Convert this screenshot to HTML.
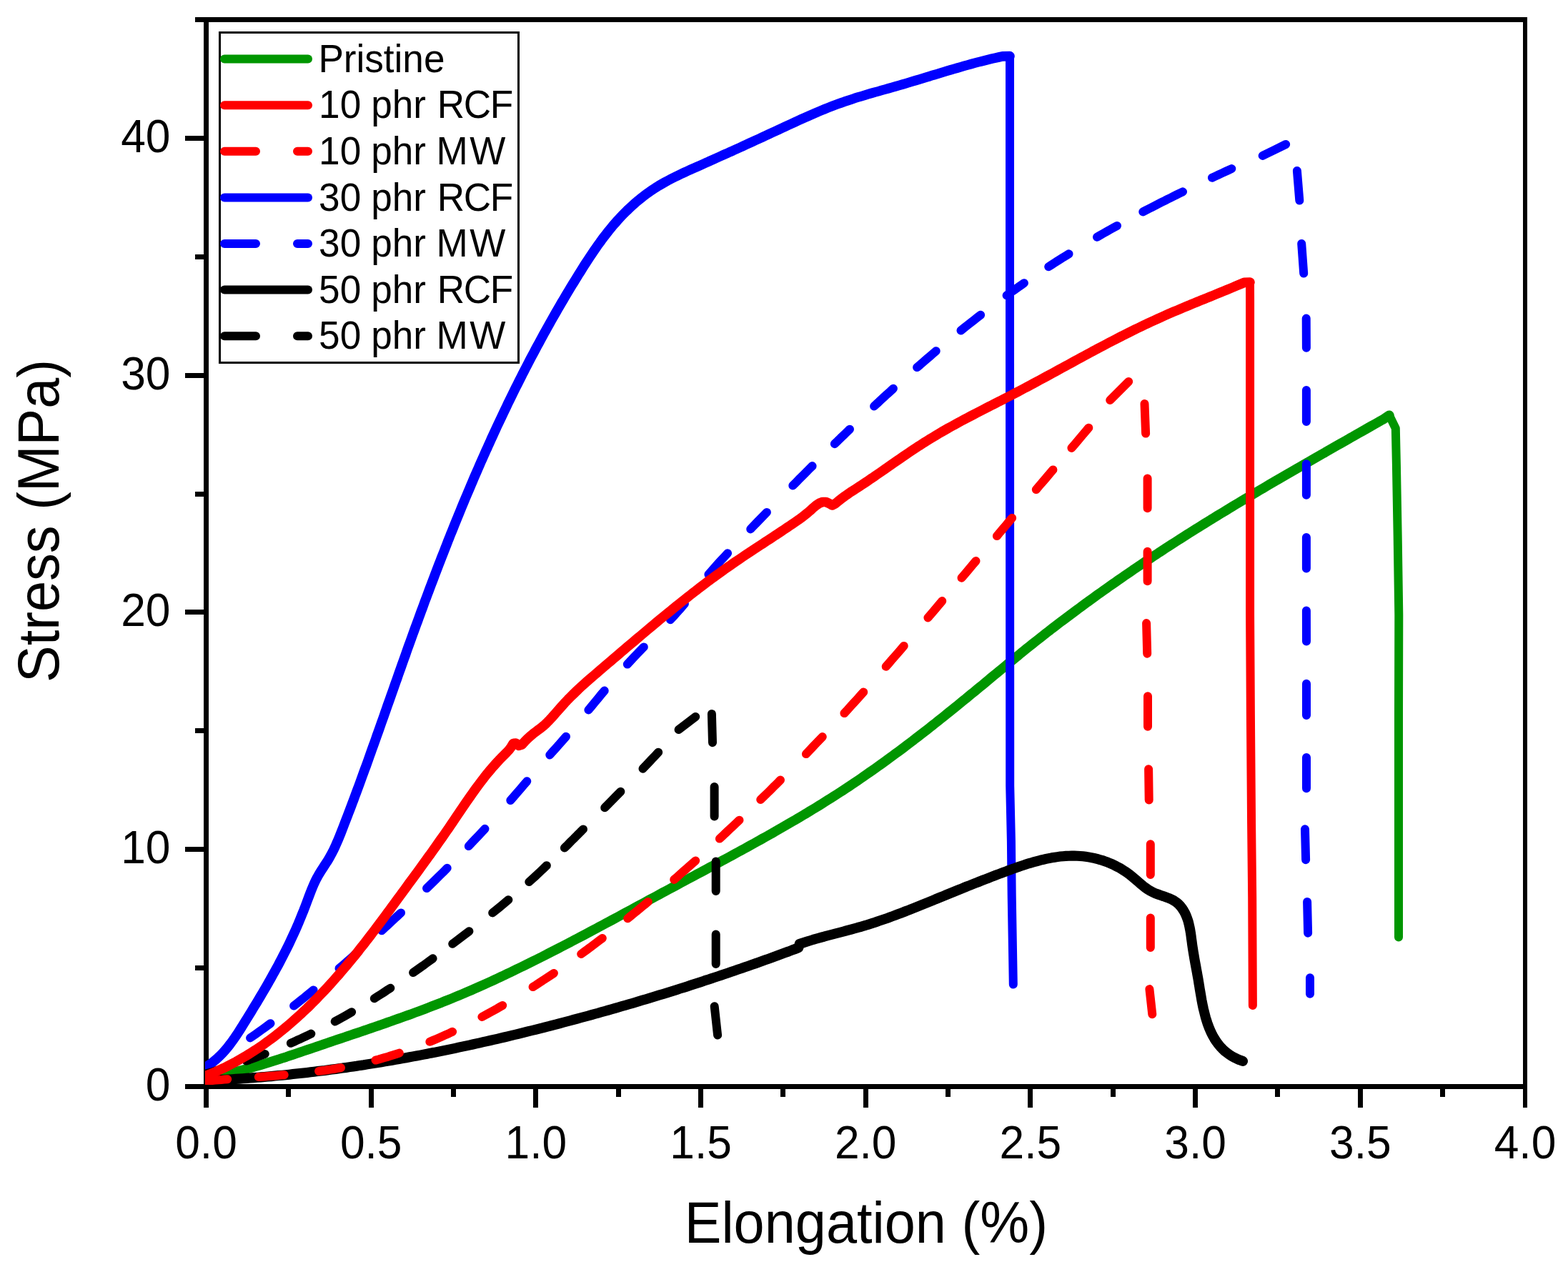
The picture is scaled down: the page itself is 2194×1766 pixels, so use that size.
<!DOCTYPE html>
<html lang="en">
<head>
<meta charset="utf-8">
<title>Stress vs Elongation</title>
<style>
html,body{margin:0;padding:0;background:#fff;}
body{width:2194px;height:1766px;overflow:hidden;}
svg{display:block;}
text{font-family:"Liberation Sans",Arial,Helvetica,sans-serif;fill:#000;}
.tick{font-size:62.3px;}
.axis{font-size:77.5px;}
.leg{font-size:53.1px;}
</style>
</head>
<body>
<svg xmlns="http://www.w3.org/2000/svg" width="2194" height="1766" viewBox="0 0 2194 1766">
<rect x="0" y="0" width="2194" height="1766" fill="#ffffff"/>
<g id="axes" shape-rendering="crispEdges">
<rect x="285" y="24" width="7" height="1526" fill="#000"/>
<rect x="2131" y="24" width="6" height="1526" fill="#000"/>
<rect x="273" y="24" width="1864" height="7" fill="#000"/>
<rect x="259" y="1517" width="1878" height="7" fill="#000"/>
<rect x="400" y="1520" width="7" height="15" fill="#000"/>
<rect x="516" y="1520" width="7" height="30" fill="#000"/>
<rect x="631" y="1520" width="7" height="15" fill="#000"/>
<rect x="746" y="1520" width="7" height="30" fill="#000"/>
<rect x="862" y="1520" width="7" height="15" fill="#000"/>
<rect x="977" y="1520" width="7" height="30" fill="#000"/>
<rect x="1092" y="1520" width="7" height="15" fill="#000"/>
<rect x="1208" y="1520" width="7" height="30" fill="#000"/>
<rect x="1323" y="1520" width="7" height="15" fill="#000"/>
<rect x="1438" y="1520" width="7" height="30" fill="#000"/>
<rect x="1554" y="1520" width="7" height="15" fill="#000"/>
<rect x="1669" y="1520" width="7" height="30" fill="#000"/>
<rect x="1784" y="1520" width="7" height="15" fill="#000"/>
<rect x="1900" y="1520" width="7" height="30" fill="#000"/>
<rect x="2015" y="1520" width="7" height="15" fill="#000"/>
<rect x="273" y="1351" width="15" height="7" fill="#000"/>
<rect x="259" y="1185" width="29" height="7" fill="#000"/>
<rect x="273" y="1019" width="15" height="7" fill="#000"/>
<rect x="259" y="853" width="29" height="7" fill="#000"/>
<rect x="273" y="688" width="15" height="7" fill="#000"/>
<rect x="259" y="522" width="29" height="7" fill="#000"/>
<rect x="273" y="356" width="15" height="7" fill="#000"/>
<rect x="259" y="190" width="29" height="7" fill="#000"/>
</g>
<defs><clipPath id="plotclip"><rect x="287" y="28" width="1847" height="1490"/></clipPath></defs>
<g id="curves" clip-path="url(#plotclip)">
<path d="M280 1509.5 L284.9 1508.8 L289.9 1508 L294.8 1507.2 L299.7 1506.3 L304.6 1505.3 L309.5 1504.3 L314.3 1503.3 L319.2 1502.2 L324.1 1501.1 L328.9 1500 L333.7 1498.8 L338.6 1497.5 L343.4 1496.3 L348.2 1495 L353 1493.6 L357.8 1492.3 L362.6 1490.9 L367.4 1489.4 L372.2 1488 L377 1486.5 L381.7 1485 L386.5 1483.5 L391.3 1482 L396 1480.4 L400.8 1478.9 L405.5 1477.3 L410.3 1475.7 L415 1474.1 L419.8 1472.5 L424.5 1470.9 L429.3 1469.3 L434 1467.7 L438.8 1466.1 L443.5 1464.5 L448.3 1462.8 L453 1461.2 L457.7 1459.6 L462.5 1458 L467.2 1456.4 L472 1454.8 L476.7 1453.2 L481.5 1451.6 L486.2 1450 L491 1448.4 L495.7 1446.8 L500.5 1445.2 L505.2 1443.6 L509.9 1442 L514.7 1440.3 L519.4 1438.7 L524.1 1437.1 L528.9 1435.5 L533.6 1433.8 L538.3 1432.2 L543 1430.5 L547.8 1428.9 L552.5 1427.2 L557.2 1425.5 L561.9 1423.9 L566.6 1422.2 L571.3 1420.5 L576 1418.8 L580.7 1417 L585.4 1415.3 L590.1 1413.6 L594.8 1411.8 L599.4 1410 L604.1 1408.2 L608.8 1406.4 L613.4 1404.6 L618.1 1402.8 L622.7 1400.9 L627.3 1399.1 L632 1397.2 L636.6 1395.3 L641.2 1393.4 L645.8 1391.5 L650.4 1389.5 L655 1387.5 L659.6 1385.6 L664.2 1383.6 L668.8 1381.5 L673.3 1379.5 L677.9 1377.5 L682.5 1375.4 L687 1373.3 L691.6 1371.2 L696.1 1369.1 L700.6 1367 L705.2 1364.9 L709.7 1362.7 L714.2 1360.6 L718.7 1358.4 L723.2 1356.2 L727.7 1354 L732.2 1351.8 L736.7 1349.6 L741.2 1347.4 L745.7 1345.2 L750.1 1343 L754.6 1340.7 L759.1 1338.5 L763.5 1336.2 L768 1333.9 L772.4 1331.7 L776.9 1329.4 L781.3 1327.1 L785.8 1324.8 L790.2 1322.5 L794.6 1320.2 L799.1 1317.9 L803.5 1315.5 L807.9 1313.2 L812.4 1310.9 L816.8 1308.6 L821.2 1306.2 L825.6 1303.9 L830 1301.5 L834.4 1299.2 L838.8 1296.8 L843.2 1294.5 L847.7 1292.1 L852.1 1289.7 L856.5 1287.4 L860.9 1285 L865.3 1282.6 L869.7 1280.2 L874.1 1277.9 L878.5 1275.5 L882.9 1273.1 L887.3 1270.7 L891.7 1268.4 L896.1 1266 L900.5 1263.6 L904.9 1261.2 L909.3 1258.8 L913.7 1256.5 L918.1 1254.1 L922.5 1251.7 L926.9 1249.3 L931.3 1247 L935.7 1244.6 L940.1 1242.2 L944.5 1239.9 L948.9 1237.5 L953.4 1235.1 L957.8 1232.8 L962.2 1230.4 L966.6 1228 L971 1225.7 L975.4 1223.3 L979.9 1220.9 L984.3 1218.6 L988.7 1216.2 L993.1 1213.8 L997.5 1211.5 L1001.9 1209.1 L1006.3 1206.7 L1010.8 1204.3 L1015.2 1202 L1019.6 1199.6 L1024 1197.2 L1028.4 1194.8 L1032.8 1192.4 L1037.2 1190 L1041.6 1187.6 L1045.9 1185.2 L1050.3 1182.8 L1054.7 1180.4 L1059.1 1177.9 L1063.5 1175.5 L1067.8 1173 L1072.2 1170.6 L1076.6 1168.1 L1080.9 1165.7 L1085.3 1163.2 L1089.6 1160.7 L1094 1158.2 L1098.3 1155.7 L1102.6 1153.2 L1106.9 1150.7 L1111.3 1148.2 L1115.6 1145.6 L1119.9 1143.1 L1124.2 1140.5 L1128.5 1138 L1132.7 1135.4 L1137 1132.8 L1141.3 1130.2 L1145.5 1127.6 L1149.8 1124.9 L1154 1122.3 L1158.3 1119.6 L1162.5 1117 L1166.7 1114.3 L1170.9 1111.6 L1175.1 1108.9 L1179.3 1106.2 L1183.5 1103.4 L1187.6 1100.7 L1191.8 1097.9 L1195.9 1095.1 L1200.1 1092.3 L1204.2 1089.5 L1208.3 1086.7 L1212.4 1083.8 L1216.5 1080.9 L1220.6 1078.1 L1224.7 1075.2 L1228.8 1072.3 L1232.9 1069.4 L1236.9 1066.5 L1241 1063.5 L1245 1060.6 L1249 1057.6 L1253.1 1054.6 L1257.1 1051.7 L1261.1 1048.7 L1265.1 1045.7 L1269.1 1042.6 L1273.1 1039.6 L1277.1 1036.6 L1281 1033.5 L1285 1030.5 L1289 1027.4 L1292.9 1024.4 L1296.9 1021.3 L1300.8 1018.2 L1304.7 1015.1 L1308.7 1012 L1312.6 1008.9 L1316.5 1005.8 L1320.4 1002.7 L1324.3 999.5 L1328.2 996.4 L1332.1 993.2 L1336 990.1 L1339.9 987 L1343.8 983.8 L1347.7 980.6 L1351.6 977.5 L1355.4 974.3 L1359.3 971.1 L1363.2 968 L1367 964.8 L1370.9 961.6 L1374.8 958.4 L1378.6 955.2 L1382.5 952 L1386.3 948.8 L1390.2 945.6 L1394 942.5 L1397.9 939.3 L1401.7 936.1 L1405.6 932.9 L1409.4 929.7 L1413.3 926.5 L1417.1 923.4 L1421 920.2 L1424.9 917.1 L1428.7 913.9 L1432.6 910.8 L1436.5 907.6 L1440.4 904.5 L1444.3 901.4 L1448.2 898.3 L1452.1 895.2 L1456.1 892.1 L1460 889 L1463.9 885.9 L1467.9 882.9 L1471.8 879.8 L1475.8 876.8 L1479.8 873.7 L1483.7 870.7 L1487.7 867.7 L1491.7 864.7 L1495.7 861.7 L1499.7 858.7 L1503.7 855.7 L1507.7 852.7 L1511.8 849.8 L1515.8 846.8 L1519.8 843.8 L1523.9 840.9 L1527.9 838 L1532 835 L1536 832.1 L1540.1 829.2 L1544.2 826.3 L1548.2 823.4 L1552.3 820.5 L1556.4 817.6 L1560.5 814.8 L1564.6 811.9 L1568.7 809.1 L1572.8 806.2 L1577 803.4 L1581.1 800.6 L1585.2 797.7 L1589.4 794.9 L1593.5 792.1 L1597.6 789.3 L1601.8 786.5 L1606 783.7 L1610.1 781 L1614.3 778.2 L1618.5 775.5 L1622.6 772.7 L1626.8 770 L1631 767.2 L1635.2 764.5 L1639.4 761.8 L1643.6 759.1 L1647.8 756.4 L1652 753.7 L1656.3 751 L1660.5 748.3 L1664.7 745.6 L1668.9 743 L1673.2 740.3 L1677.4 737.7 L1681.7 735 L1685.9 732.4 L1690.2 729.8 L1694.4 727.1 L1698.7 724.5 L1702.9 721.9 L1707.2 719.3 L1711.5 716.7 L1715.8 714.1 L1720 711.5 L1724.3 708.9 L1728.6 706.3 L1732.9 703.7 L1737.2 701.2 L1741.5 698.6 L1745.8 696 L1750.1 693.5 L1754.4 690.9 L1758.7 688.4 L1763 685.8 L1767.3 683.3 L1771.6 680.7 L1775.9 678.2 L1780.2 675.7 L1784.5 673.2 L1788.9 670.6 L1793.2 668.1 L1797.5 665.6 L1801.8 663.1 L1806.2 660.6 L1810.5 658.1 L1814.8 655.6 L1819.2 653.1 L1823.5 650.6 L1827.8 648.1 L1832.2 645.6 L1836.5 643.1 L1840.8 640.6 L1845.2 638.1 L1849.5 635.6 L1853.9 633.2 L1858.2 630.7 L1862.6 628.2 L1866.9 625.7 L1871.3 623.2 L1875.6 620.8 L1879.9 618.3 L1884.3 615.8 L1888.6 613.3 L1893 610.9 L1897.3 608.4 L1901.7 605.9 L1906 603.5 L1910.4 601 L1914.7 598.5 L1919.1 596 L1923.4 593.6 L1927.8 591.1 L1932.1 588.6 L1936.5 586.2 L1943.9 581.2" stroke="#009600" stroke-width="13.6" fill="none" stroke-linecap="round" stroke-linejoin="round"/>
<path d="M1943.9 581.2 L1952.8 599.4 L1953.9 649.6 L1955.7 751.6 L1957.3 860.1 L1957 1000 L1957 1311.5" stroke="#009600" stroke-width="12" fill="none" stroke-linecap="round" stroke-linejoin="round"/>
<path d="M280 1497.5 L284.6 1495.1 L289 1492.5 L293.2 1489.7 L297.3 1486.7 L301.1 1483.6 L304.8 1480.3 L308.4 1476.9 L311.8 1473.3 L315.1 1469.7 L318.3 1465.9 L321.3 1462 L324.3 1458 L327.2 1454 L330 1449.9 L332.8 1445.7 L335.5 1441.5 L338.2 1437.3 L340.8 1433 L343.5 1428.7 L346.1 1424.5 L348.8 1420.2 L351.4 1415.9 L354 1411.6 L356.6 1407.3 L359.2 1403.1 L361.8 1398.8 L364.3 1394.5 L366.9 1390.1 L369.4 1385.8 L372 1381.5 L374.5 1377.2 L376.9 1372.8 L379.4 1368.5 L381.8 1364.1 L384.3 1359.7 L386.7 1355.3 L389.1 1350.9 L391.4 1346.5 L393.7 1342.1 L396 1337.6 L398.3 1333.2 L400.6 1328.7 L402.8 1324.2 L405 1319.7 L407.1 1315.2 L409.2 1310.7 L411.3 1306.1 L413.4 1301.6 L415.4 1297 L417.4 1292.4 L419.3 1287.7 L421.2 1283.1 L423.1 1278.4 L425 1273.8 L426.8 1269.1 L428.6 1264.4 L430.3 1259.7 L432.1 1255 L433.9 1250.3 L435.7 1245.6 L437.6 1241 L439.6 1236.4 L441.7 1231.9 L444 1227.5 L446.5 1223.1 L449.1 1218.9 L451.8 1214.7 L454.5 1210.5 L457.3 1206.3 L459.9 1202.1 L462.4 1197.7 L464.7 1193.3 L467 1188.9 L469.1 1184.4 L471.1 1179.8 L473.1 1175.2 L475 1170.6 L476.9 1165.9 L478.7 1161.3 L480.5 1156.6 L482.3 1151.9 L484.1 1147.3 L485.9 1142.6 L487.7 1137.9 L489.5 1133.2 L491.3 1128.5 L493 1123.9 L494.8 1119.2 L496.5 1114.5 L498.3 1109.8 L500 1105.1 L501.8 1100.4 L503.5 1095.7 L505.2 1091 L506.9 1086.3 L508.6 1081.6 L510.3 1076.9 L512.1 1072.2 L513.8 1067.5 L515.5 1062.8 L517.1 1058.1 L518.8 1053.4 L520.5 1048.6 L522.2 1043.9 L523.9 1039.2 L525.6 1034.5 L527.2 1029.8 L528.9 1025.1 L530.6 1020.4 L532.3 1015.6 L533.9 1010.9 L535.6 1006.2 L537.3 1001.5 L538.9 996.8 L540.6 992 L542.2 987.3 L543.9 982.6 L545.6 977.9 L547.2 973.2 L548.9 968.5 L550.6 963.7 L552.2 959 L553.9 954.3 L555.6 949.6 L557.2 944.9 L558.9 940.1 L560.6 935.4 L562.2 930.7 L563.9 926 L565.6 921.3 L567.3 916.6 L568.9 911.9 L570.6 907.1 L572.3 902.4 L574 897.7 L575.7 893 L577.4 888.3 L579.1 883.6 L580.8 878.9 L582.5 874.2 L584.3 869.5 L586 864.8 L587.7 860.1 L589.4 855.4 L591.2 850.7 L592.9 846 L594.6 841.3 L596.4 836.6 L598.1 832 L599.9 827.3 L601.6 822.6 L603.4 817.9 L605.2 813.2 L607 808.5 L608.7 803.9 L610.5 799.2 L612.3 794.5 L614.1 789.8 L615.9 785.2 L617.7 780.5 L619.5 775.9 L621.4 771.2 L623.2 766.5 L625 761.9 L626.8 757.2 L628.7 752.6 L630.5 747.9 L632.4 743.3 L634.3 738.6 L636.1 734 L638 729.4 L639.9 724.7 L641.8 720.1 L643.7 715.5 L645.6 710.8 L647.5 706.2 L649.4 701.6 L651.3 697 L653.3 692.4 L655.2 687.8 L657.2 683.2 L659.1 678.6 L661.1 674 L663 669.4 L665 664.8 L667 660.2 L669 655.6 L671 651 L673 646.4 L675 641.9 L677.1 637.3 L679.1 632.7 L681.2 628.2 L683.2 623.6 L685.3 619.1 L687.3 614.5 L689.4 610 L691.5 605.4 L693.6 600.9 L695.7 596.3 L697.8 591.8 L700 587.3 L702.1 582.8 L704.2 578.3 L706.4 573.7 L708.6 569.2 L710.7 564.7 L712.9 560.2 L715.1 555.7 L717.3 551.3 L719.5 546.8 L721.7 542.3 L724 537.8 L726.2 533.4 L728.5 528.9 L730.7 524.4 L733 520 L735.3 515.5 L737.6 511.1 L739.9 506.7 L742.2 502.2 L744.5 497.8 L746.9 493.4 L749.2 489 L751.6 484.6 L754 480.2 L756.3 475.8 L758.7 471.4 L761.1 467 L763.6 462.6 L766 458.3 L768.4 453.9 L770.9 449.5 L773.3 445.2 L775.8 440.8 L778.3 436.5 L780.8 432.2 L783.3 427.8 L785.8 423.5 L788.4 419.2 L790.9 414.9 L793.5 410.6 L796 406.3 L798.6 402 L801.2 397.7 L803.9 393.5 L806.5 389.2 L809.1 384.9 L811.8 380.7 L814.5 376.4 L817.1 372.2 L819.8 368 L822.6 363.8 L825.3 359.6 L828.1 355.4 L830.9 351.2 L833.8 347.1 L836.6 343 L839.6 339 L842.5 334.9 L845.5 330.9 L848.6 327 L851.7 323 L854.8 319.2 L858 315.3 L861.3 311.6 L864.6 307.8 L868 304.2 L871.4 300.5 L874.9 297 L878.5 293.5 L882.1 290.1 L885.8 286.7 L889.5 283.4 L893.3 280.2 L897.2 277.1 L901.1 274 L905.1 271.1 L909.1 268.2 L913.2 265.4 L917.4 262.6 L921.6 260 L925.9 257.5 L930.3 255 L934.7 252.6 L939.1 250.3 L943.6 248 L948.1 245.8 L952.6 243.7 L957.2 241.5 L961.8 239.4 L966.4 237.3 L971 235.3 L975.6 233.2 L980.2 231.2 L984.8 229.1 L989.4 227.1 L993.9 225 L998.5 223 L1003.1 220.9 L1007.6 218.9 L1012.2 216.8 L1016.8 214.8 L1021.3 212.7 L1025.9 210.7 L1030.4 208.6 L1034.9 206.6 L1039.5 204.5 L1044 202.4 L1048.6 200.3 L1053.1 198.3 L1057.6 196.2 L1062.2 194.1 L1066.7 192 L1071.2 189.9 L1075.8 187.8 L1080.3 185.7 L1084.8 183.6 L1089.4 181.5 L1093.9 179.4 L1098.5 177.3 L1103 175.2 L1107.5 173.1 L1112.1 171 L1116.6 168.9 L1121.2 166.8 L1125.8 164.8 L1130.4 162.7 L1134.9 160.7 L1139.5 158.7 L1144.1 156.7 L1148.8 154.8 L1153.4 152.9 L1158 151 L1162.7 149.2 L1167.3 147.4 L1172 145.7 L1176.7 144 L1181.4 142.3 L1186.2 140.7 L1190.9 139.2 L1195.6 137.6 L1200.4 136.1 L1205.2 134.7 L1210 133.2 L1214.7 131.8 L1219.5 130.4 L1224.3 129 L1229.2 127.7 L1234 126.3 L1238.8 125 L1243.6 123.6 L1248.4 122.2 L1253.2 120.9 L1258 119.5 L1262.8 118.1 L1267.6 116.7 L1272.4 115.3 L1277.2 113.8 L1282 112.4 L1286.8 111 L1291.6 109.5 L1296.4 108 L1301.2 106.6 L1305.9 105.1 L1310.7 103.7 L1315.5 102.2 L1320.3 100.8 L1325.1 99.3 L1329.9 97.9 L1334.7 96.5 L1339.5 95.1 L1344.3 93.7 L1349.1 92.3 L1353.9 91 L1358.8 89.6 L1363.6 88.3 L1368.4 87 L1373.3 85.8 L1378.1 84.6 L1383 83.4 L1387.8 82.2 L1392.7 81.1 L1397.6 80 L1402.5 78.9 L1413 78.6" stroke="#0000ff" stroke-width="13.6" fill="none" stroke-linecap="round" stroke-linejoin="round"/>
<path d="M1413 78.6 L1413 460.1 L1413.2 1100 L1414.9 1176.5 L1415.7 1253.1 L1417 1329.6 L1417.8 1377.6" stroke="#0000ff" stroke-width="12" fill="none" stroke-linecap="round" stroke-linejoin="round"/>
<path d="M350.1 1452.4 L354.2 1449.6 L358.2 1446.8 L362.3 1443.9 L366.3 1441 L370.4 1438.1 L374.4 1435.2 L378.5 1432.2 M411.1 1407.5 L415.7 1403.9 L420.3 1400.3 L424.9 1396.6 L429.4 1392.9 L434 1389.2 L438.6 1385.4 M474.5 1355.2 L479.1 1351.3 L483.7 1347.3 L488.3 1343.2 L492.9 1339.2 L497.5 1335.1 L502.1 1331.1 M534.1 1302.2 L538.6 1298.1 L543.1 1294 L547.5 1289.9 L552 1285.7 L556.5 1281.5 L561 1277.4 M597 1243.1 L601.1 1239.1 L605.2 1235.1 L609.3 1231.1 L613.4 1227 L617.5 1223 L621.6 1218.9 L625.7 1214.8 M655.8 1184 L660.3 1179.2 L664.8 1174.4 L669.4 1169.6 L673.9 1164.7 L678.5 1159.8 M714.3 1120 L718.9 1114.8 L723.5 1109.4 L728.1 1104.1 L732.7 1098.7 L737.3 1093.3 M769.3 1056.4 L773.8 1051.3 L778.4 1046.2 L782.9 1041.1 L787.4 1036 L792 1030.8 M823.4 993.5 L827.9 988.1 L832.3 982.7 L836.8 977.3 L841.2 971.9 L845.7 966.6 M877.8 929.6 L882.4 924.6 L887 919.7 L891.6 914.9 L896.2 910.1 L900.8 905.4 M938 867.2 L943 861.8 L948 856.3 L953 850.7 L957.9 844.9 M991.4 804 L995.8 798.8 L1000.3 793.7 L1004.7 788.7 L1009.2 783.8 L1013.7 779 L1018.1 774.2 M1050.2 740.4 L1054.7 735.7 L1059.2 731 L1063.8 726.3 L1068.3 721.6 L1072.9 716.9 M1109.3 679.5 L1113.9 674.9 L1118.4 670.3 L1123 665.7 L1127.5 661.2 L1132 656.6 L1136.6 652.1 M1167.8 621.2 L1172.1 617.1 L1176.3 612.9 L1180.6 608.8 L1184.8 604.7 L1189 600.7 M1223.1 568.4 L1227.6 564.3 L1232 560.1 L1236.5 556 L1240.9 551.9 L1245.4 547.9 L1249.9 543.8 M1283.1 514.1 L1287.6 510.3 L1292 506.4 L1296.4 502.6 L1300.9 498.8 L1305.3 495 L1309.7 491.2 M1344.5 462.5 L1349.1 458.8 L1353.7 455.1 L1358.3 451.5 L1362.9 447.9 L1367.5 444.3 L1372.1 440.7 M1408.6 413.4 L1412.7 410.4 L1416.7 407.5 L1420.8 404.7 L1424.8 401.8 L1428.9 399 L1432.9 396.2 M1467.2 373.2 L1471.3 370.6 L1475.3 368 L1479.4 365.4 L1483.4 362.9 L1487.4 360.3 L1491.5 357.8 L1495.5 355.3 M1535 331.7 L1539.7 329 L1544.3 326.4 L1549 323.7 L1553.6 321.1 L1558.3 318.5 L1563 315.9 M1599.3 296.4 L1603.6 294.2 L1607.8 292 L1612.1 289.8 L1616.4 287.6 L1620.7 285.4 L1625 283.2 L1629.3 281.1 L1633.5 278.9 L1637.8 276.8 L1642.1 274.6 L1646.4 272.5 L1650.7 270.4 L1655 268.3 M1696 248.7 L1700.6 246.6 L1705.1 244.5 L1709.7 242.4 L1714.2 240.3 L1718.7 238.2 L1723.3 236.1 M1766.7 217.9 L1799.1 202 M1814.9 239 L1818.3 280.6 M1821.2 341 L1824.2 382.6 M1827.7 445.6 L1827.9 486.7 M1827.9 545.9 L1827.9 590 M1827.9 649.2 L1827.9 692.8 M1827.9 752 L1827.9 795.4 M1827.9 854.6 L1828 897.6 M1828 956.8 L1828 1000.9 M1828 1060.1 L1828 1103.2 M1826 1160.3 L1827.1 1203.2 M1829.1 1261.9 L1830.1 1305.7 M1833 1368.2 L1833 1390.7" stroke="#0000ff" stroke-width="12" fill="none" stroke-linecap="round" stroke-linejoin="round"/>
<path d="M280 1512.3 L285 1512.2 L290 1512 L295 1511.8 L300 1511.5 L305 1511.3 L310 1511 L315 1510.8 L320 1510.5 L325 1510.2 L330 1509.9 L335 1509.6 L340 1509.2 L345 1508.9 L350 1508.5 L355 1508.1 L360 1507.8 L365 1507.4 L369.9 1506.9 L374.9 1506.5 L379.9 1506.1 L384.9 1505.6 L389.9 1505.1 L394.8 1504.7 L399.8 1504.2 L404.8 1503.7 L409.8 1503.1 L414.7 1502.6 L419.7 1502.1 L424.7 1501.5 L429.7 1500.9 L434.6 1500.3 L439.6 1499.7 L444.6 1499.1 L449.5 1498.5 L454.5 1497.9 L459.4 1497.2 L464.4 1496.6 L469.4 1495.9 L474.3 1495.2 L479.3 1494.6 L484.2 1493.9 L489.2 1493.1 L494.1 1492.4 L499.1 1491.7 L504 1490.9 L509 1490.2 L513.9 1489.4 L518.9 1488.6 L523.8 1487.8 L528.7 1487 L533.7 1486.2 L538.6 1485.4 L543.5 1484.6 L548.5 1483.7 L553.4 1482.9 L558.3 1482 L563.3 1481.1 L568.2 1480.2 L573.1 1479.3 L578 1478.4 L583 1477.5 L587.9 1476.6 L592.8 1475.6 L597.7 1474.7 L602.6 1473.7 L607.6 1472.8 L612.5 1471.8 L617.4 1470.8 L622.3 1469.8 L627.2 1468.8 L632.1 1467.8 L637 1466.8 L641.9 1465.7 L646.8 1464.7 L651.7 1463.6 L656.6 1462.6 L661.5 1461.5 L666.4 1460.4 L671.3 1459.3 L676.2 1458.2 L681.1 1457.1 L686 1456 L690.8 1454.9 L695.7 1453.8 L700.6 1452.6 L705.5 1451.5 L710.4 1450.3 L715.3 1449.2 L720.1 1448 L725 1446.8 L729.9 1445.6 L734.7 1444.4 L739.6 1443.2 L744.5 1442 L749.3 1440.8 L754.2 1439.6 L759.1 1438.4 L763.9 1437.1 L768.8 1435.9 L773.6 1434.6 L778.5 1433.4 L783.3 1432.1 L788.2 1430.8 L793 1429.5 L797.9 1428.2 L802.7 1426.9 L807.6 1425.6 L812.4 1424.3 L817.2 1423 L822.1 1421.7 L826.9 1420.4 L831.7 1419 L836.6 1417.7 L841.4 1416.3 L846.2 1415 L851.1 1413.6 L855.9 1412.2 L860.7 1410.9 L865.5 1409.5 L870.3 1408.1 L875.1 1406.7 L880 1405.3 L884.8 1403.9 L889.6 1402.5 L894.4 1401 L899.2 1399.6 L904 1398.2 L908.8 1396.7 L913.6 1395.3 L918.4 1393.8 L923.2 1392.3 L927.9 1390.9 L932.7 1389.4 L937.5 1387.9 L942.3 1386.4 L947.1 1384.9 L951.8 1383.4 L956.6 1381.9 L961.4 1380.4 L966.2 1378.8 L970.9 1377.3 L975.7 1375.8 L980.5 1374.2 L985.2 1372.6 L990 1371.1 L994.7 1369.5 L999.5 1367.9 L1004.2 1366.4 L1009 1364.8 L1013.7 1363.2 L1018.4 1361.6 L1023.2 1359.9 L1027.9 1358.3 L1032.6 1356.7 L1037.4 1355.1 L1042.1 1353.4 L1046.8 1351.8 L1051.5 1350.1 L1056.3 1348.5 L1061 1346.8 L1065.7 1345.1 L1070.4 1343.4 L1075.1 1341.8 L1079.8 1340.1 L1084.5 1338.4 L1089.2 1336.6 L1093.9 1334.9 L1098.6 1333.2 L1103.3 1331.5 L1107.9 1329.7 L1112.6 1328 L1117.3 1326.2 L1118.7 1321 L1122.5 1319.7 L1126.3 1318.5 L1130.2 1317.3 L1134 1316.1 L1137.8 1314.9 L1141.7 1313.8 L1145.5 1312.7 L1149.4 1311.6 L1153.3 1310.6 L1157.1 1309.5 L1161 1308.5 L1164.9 1307.5 L1168.7 1306.5 L1172.6 1305.5 L1176.5 1304.5 L1180.3 1303.5 L1184.2 1302.4 L1188.1 1301.4 L1191.9 1300.4 L1195.8 1299.3 L1199.6 1298.2 L1203.5 1297.2 L1207.3 1296 L1211.2 1294.9 L1215 1293.7 L1218.8 1292.5 L1222.6 1291.3 L1226.4 1290 L1230.2 1288.7 L1234 1287.4 L1237.8 1286.1 L1241.6 1284.8 L1245.4 1283.4 L1249.2 1282 L1252.9 1280.6 L1256.7 1279.2 L1260.4 1277.8 L1264.2 1276.4 L1267.9 1274.9 L1271.7 1273.5 L1275.4 1272 L1279.2 1270.5 L1282.9 1269 L1286.6 1267.5 L1290.3 1266 L1294 1264.5 L1297.8 1263 L1301.5 1261.5 L1305.2 1260 L1308.9 1258.4 L1312.6 1256.9 L1316.3 1255.4 L1319.9 1253.9 L1323.6 1252.4 L1327.3 1250.9 L1331 1249.4 L1334.7 1247.9 L1338.4 1246.4 L1342.1 1244.9 L1345.7 1243.4 L1349.4 1241.9 L1353.1 1240.4 L1356.8 1239 L1360.5 1237.5 L1364.2 1236 L1367.9 1234.6 L1371.6 1233.1 L1375.3 1231.7 L1379.1 1230.2 L1382.8 1228.8 L1386.6 1227.3 L1390.3 1225.9 L1394.1 1224.4 L1397.9 1223 L1401.6 1221.6 L1405.5 1220.2 L1409.3 1218.7 L1413.1 1217.3 L1416.9 1215.9 L1420.8 1214.6 L1424.6 1213.2 L1428.5 1211.9 L1432.4 1210.6 L1436.3 1209.3 L1440.2 1208.1 L1444.1 1207 L1448 1205.8 L1451.9 1204.8 L1455.9 1203.7 L1459.8 1202.8 L1463.7 1201.9 L1467.7 1201.1 L1471.6 1200.3 L1475.6 1199.7 L1479.6 1199.1 L1483.5 1198.6 L1487.5 1198.2 L1491.4 1197.9 L1495.4 1197.7 L1499.4 1197.6 L1503.3 1197.6 L1507.3 1197.7 L1511.3 1198 L1515.2 1198.3 L1519.2 1198.8 L1523.1 1199.4 L1527 1200.1 L1530.9 1200.9 L1534.8 1201.8 L1538.6 1202.9 L1542.5 1204 L1546.2 1205.3 L1550 1206.7 L1553.7 1208.2 L1557.3 1209.8 L1560.9 1211.6 L1564.4 1213.4 L1567.9 1215.3 L1571.3 1217.4 L1574.7 1219.6 L1577.9 1221.8 L1581.1 1224.2 L1584.2 1226.7 L1587.3 1229.3 L1590.3 1231.9 L1593.3 1234.5 L1596.3 1237.1 L1599.4 1239.7 L1602.5 1242.1 L1605.8 1244.4 L1609.2 1246.5 L1612.7 1248.4 L1616.4 1250.1 L1620.3 1251.5 L1624.2 1252.9 L1628.1 1254.2 L1632 1255.6 L1635.8 1257 L1639.5 1258.6 L1642.9 1260.5 L1646.1 1262.7 L1649 1265.2 L1651.7 1268 L1654.1 1271.1 L1656.2 1274.4 L1658.1 1277.8 L1659.8 1281.5 L1661.2 1285.2 L1662.5 1289 L1663.5 1293 L1664.4 1297 L1665.2 1301 L1665.9 1305.1 L1666.5 1309.2 L1667 1313.3 L1667.6 1317.4 L1668.1 1321.5 L1668.7 1325.5 L1669.3 1329.4 L1669.9 1333.3 L1670.6 1337.1 L1671.2 1341 L1671.9 1344.8 L1672.6 1348.6 L1673.3 1352.4 L1674 1356.2 L1674.7 1360 L1675.4 1363.9 L1676.1 1367.8 L1676.8 1371.7 L1677.4 1375.7 L1678.1 1379.7 L1678.7 1383.7 L1679.4 1387.8 L1680.1 1391.8 L1680.8 1395.9 L1681.5 1400 L1682.3 1404.1 L1683.1 1408.1 L1684 1412.1 L1685 1416.1 L1686 1420.1 L1687 1424 L1688.2 1427.9 L1689.4 1431.7 L1690.8 1435.5 L1692.2 1439.2 L1693.8 1442.8 L1695.4 1446.3 L1697.2 1449.8 L1699.1 1453.1 L1701.2 1456.4 L1703.4 1459.5 L1705.7 1462.5 L1708.2 1465.4 L1710.9 1468.2 L1713.7 1470.9 L1716.8 1473.3 L1720 1475.7 L1723.4 1477.9 L1727 1479.9 L1730.8 1481.7 L1734.8 1483.4 L1739 1484.9" stroke="#000000" stroke-width="14.1" fill="none" stroke-linecap="round" stroke-linejoin="round"/>
<path d="M283.4 1503.7 L287.9 1502.5 L292.5 1501.2 L297 1499.9 L301.5 1498.6 L306.1 1497.2 L310.6 1495.8 M344.7 1484.5 L349.1 1483 L353.4 1481.4 L357.7 1479.8 L362 1478.2 L366.3 1476.6 L370.7 1474.9 M406.9 1459.8 L411 1458 L415 1456.1 L419.1 1454.3 L423.1 1452.4 L427.2 1450.5 L431.2 1448.6 L435.3 1446.6 M468.7 1429.4 L473.4 1426.9 L478.1 1424.3 L482.7 1421.7 L487.4 1419 L492.1 1416.3 M523.8 1397.2 L528.3 1394.3 L532.8 1391.5 L537.3 1388.6 L541.8 1385.6 L546.3 1382.7 M578.1 1361 L582.7 1357.8 L587.3 1354.5 L591.9 1351.3 L596.4 1348 L601 1344.7 L605.6 1341.3 M633.2 1320.8 L637.9 1317.3 L642.5 1313.8 L647.1 1310.3 L651.7 1306.8 L656.4 1303.2 M689.2 1277.4 L693.6 1273.8 L698.1 1270.2 L702.5 1266.6 L706.9 1262.9 L711.4 1259.2 M740.3 1234.1 L744.4 1230.4 L748.5 1226.7 L752.6 1222.9 L756.7 1219 L760.8 1215.1 L764.9 1211.2 M789.9 1186.6 L794.3 1182.2 L798.6 1177.8 L803 1173.5 L807.3 1169.1 L811.7 1164.8 L816 1160.4 M846.2 1130.2 L850.7 1125.7 L855.1 1121.3 L859.5 1116.8 L863.9 1112.3 L868.4 1107.8 M899.5 1075.7 L903.8 1071.1 L908.2 1066.5 L912.5 1061.9 L916.9 1057.3 L921.2 1052.7 M949.6 1021.1 L973.2 1002.9 M995.9 998.9 L997 1039.2 M999.6 1101 L999.6 1142.5 M1001.7 1205.5 L1001.7 1247.1 M1001.7 1307.5 L1001.7 1349.1 M999.7 1408.3 L1004.1 1448.6" stroke="#000000" stroke-width="12" fill="none" stroke-linecap="round" stroke-linejoin="round"/>
<path d="M280 1508.5 L284.8 1506.7 L289.5 1504.9 L294.1 1503 L298.8 1501.1 L303.4 1499 L307.9 1496.9 L312.5 1494.8 L317 1492.6 L321.4 1490.3 L325.8 1488 L330.2 1485.7 L334.6 1483.2 L338.9 1480.7 L343.2 1478.2 L347.4 1475.6 L351.6 1473 L355.8 1470.3 L360 1467.6 L364.1 1464.8 L368.2 1462 L372.2 1459.1 L376.2 1456.1 L380.2 1453.2 L384.2 1450.2 L388.1 1447.1 L392 1444 L395.9 1440.9 L399.7 1437.7 L403.6 1434.5 L407.3 1431.2 L411.1 1427.9 L414.8 1424.6 L418.5 1421.3 L422.2 1417.9 L425.8 1414.4 L429.5 1411 L433.1 1407.5 L436.6 1404 L440.2 1400.4 L443.7 1396.9 L447.2 1393.2 L450.7 1389.6 L454.1 1386 L457.5 1382.3 L460.9 1378.6 L464.3 1374.9 L467.6 1371.1 L471 1367.3 L474.3 1363.6 L477.6 1359.7 L480.8 1355.9 L484.1 1352.1 L487.3 1348.2 L490.5 1344.4 L493.7 1340.5 L496.9 1336.6 L500 1332.7 L503.1 1328.7 L506.2 1324.8 L509.3 1320.9 L512.4 1316.9 L515.4 1313 L518.5 1309 L521.5 1305 L524.5 1301.1 L527.5 1297.1 L530.5 1293.1 L533.5 1289.1 L536.5 1285.1 L539.5 1281.1 L542.4 1277.1 L545.4 1273.1 L548.3 1269.1 L551.3 1265 L554.2 1261 L557.1 1257 L560.1 1253 L563 1249 L566 1245 L568.9 1241 L571.8 1236.9 L574.8 1232.9 L577.7 1228.9 L580.7 1224.9 L583.6 1220.9 L586.5 1216.9 L589.5 1212.8 L592.4 1208.8 L595.3 1204.8 L598.2 1200.7 L601.2 1196.7 L604.1 1192.6 L607 1188.6 L609.9 1184.5 L612.7 1180.4 L615.6 1176.3 L618.5 1172.2 L621.4 1168.1 L624.2 1164 L627.1 1159.9 L629.9 1155.7 L632.7 1151.6 L635.5 1147.4 L638.4 1143.2 L641.2 1139 L644 1134.9 L646.8 1130.7 L649.6 1126.6 L652.5 1122.4 L655.3 1118.3 L658.2 1114.2 L661.1 1110.1 L664 1106 L666.9 1102 L669.9 1098 L672.9 1094 L675.9 1090.1 L678.9 1086.2 L682 1082.3 L685.2 1078.5 L688.3 1074.8 L691.6 1071.1 L694.9 1067.4 L698.2 1063.8 L701.6 1060.3 L705 1056.9 L708.5 1053.4 L712 1049.7 L715.3 1045.2 L718.4 1040.2 L721.9 1040 L726.1 1043.4 L730.2 1042 L734.3 1037.6 L738.3 1033.5 L742.2 1029.9 L746.1 1026.7 L749.9 1023.8 L753.6 1021.1 L757.2 1018.3 L760.8 1015.4 L764.3 1012.2 L767.7 1008.8 L771.1 1005.2 L774.5 1001.4 L777.8 997.6 L781.2 993.7 L784.6 989.9 L788 986.1 L791.4 982.3 L794.9 978.6 L798.5 975 L802.1 971.5 L805.7 968 L809.3 964.5 L813 961.1 L816.7 957.7 L820.4 954.4 L824.1 951.1 L827.9 947.8 L831.7 944.6 L835.5 941.3 L839.2 938.1 L843 934.9 L846.8 931.6 L850.6 928.4 L854.4 925.2 L858.2 921.9 L862 918.7 L865.8 915.5 L869.6 912.2 L873.4 909 L877.2 905.7 L881 902.5 L884.9 899.3 L888.7 896 L892.5 892.8 L896.3 889.6 L900.1 886.4 L904 883.1 L907.8 879.9 L911.6 876.7 L915.5 873.5 L919.3 870.3 L923.2 867.1 L927 863.9 L930.9 860.7 L934.8 857.6 L938.7 854.4 L942.5 851.2 L946.4 848.1 L950.3 845 L954.3 841.8 L958.2 838.7 L962.1 835.6 L966.1 832.5 L970 829.4 L974 826.4 L977.9 823.3 L981.9 820.3 L985.9 817.3 L989.9 814.2 L993.9 811.2 L998 808.3 L1002 805.3 L1006 802.4 L1010.1 799.4 L1014.2 796.5 L1018.3 793.6 L1022.4 790.8 L1026.5 787.9 L1030.6 785.1 L1034.8 782.3 L1038.9 779.5 L1043.1 776.7 L1047.3 773.9 L1051.5 771.1 L1055.6 768.4 L1059.8 765.6 L1064 762.9 L1068.2 760.2 L1072.3 757.4 L1076.5 754.7 L1080.7 752 L1084.8 749.2 L1089 746.5 L1093.1 743.8 L1097.2 741 L1101.3 738.3 L1105.4 735.5 L1109.5 732.8 L1113.5 730 L1117.6 727.2 L1121.6 724.3 L1125.6 721.2 L1129.7 717.9 L1133.8 714.4 L1137.9 710.6 L1142.2 707 L1146.5 704.2 L1151.1 702.5 L1155.7 702.5 L1160.1 704.5 L1164.3 707 L1168.7 704.9 L1173.2 701.1 L1177.6 697.7 L1181.8 694.5 L1186 691.6 L1190 688.8 L1194.1 686.2 L1198.1 683.6 L1202.1 681 L1206.1 678.4 L1210.1 675.8 L1214.1 673.1 L1218.1 670.3 L1222.2 667.6 L1226.2 664.8 L1230.3 662 L1234.3 659.2 L1238.4 656.4 L1242.5 653.5 L1246.6 650.7 L1250.7 647.8 L1254.9 644.9 L1259 642.1 L1263.2 639.2 L1267.3 636.4 L1271.5 633.5 L1275.7 630.7 L1279.9 627.9 L1284.1 625.1 L1288.4 622.4 L1292.6 619.6 L1296.9 617 L1301.2 614.3 L1305.5 611.7 L1309.8 609.1 L1314.1 606.5 L1318.4 604 L1322.8 601.5 L1327.1 599 L1331.5 596.6 L1335.9 594.2 L1340.3 591.8 L1344.7 589.4 L1349.1 587 L1353.5 584.7 L1357.9 582.4 L1362.3 580.1 L1366.8 577.8 L1371.2 575.5 L1375.6 573.2 L1380.1 570.9 L1384.5 568.6 L1389 566.4 L1393.4 564.1 L1397.8 561.8 L1402.3 559.6 L1406.7 557.3 L1411.2 555 L1415.6 552.7 L1420 550.4 L1424.5 548.1 L1428.9 545.8 L1433.3 543.4 L1437.7 541.1 L1442.1 538.7 L1446.5 536.4 L1450.9 534 L1455.3 531.6 L1459.7 529.2 L1464.1 526.9 L1468.5 524.5 L1472.9 522.1 L1477.3 519.7 L1481.7 517.3 L1486.1 514.9 L1490.5 512.5 L1494.9 510.1 L1499.3 507.7 L1503.7 505.3 L1508.1 502.9 L1512.5 500.5 L1516.9 498.1 L1521.3 495.8 L1525.7 493.4 L1530.1 491 L1534.5 488.6 L1539 486.3 L1543.4 484 L1547.8 481.6 L1552.2 479.3 L1556.7 477 L1561.1 474.7 L1565.6 472.4 L1570 470.1 L1574.5 467.9 L1579 465.6 L1583.5 463.4 L1587.9 461.2 L1592.4 459 L1596.9 456.8 L1601.4 454.6 L1606 452.5 L1610.5 450.4 L1615 448.3 L1619.6 446.2 L1624.1 444.2 L1628.7 442.1 L1633.3 440.1 L1637.9 438.1 L1642.5 436.1 L1647.1 434.2 L1651.7 432.2 L1656.3 430.3 L1660.9 428.4 L1665.5 426.4 L1670.2 424.5 L1674.8 422.6 L1679.4 420.7 L1684.1 418.9 L1688.7 417 L1693.3 415.1 L1698 413.2 L1702.6 411.3 L1707.3 409.4 L1711.9 407.5 L1716.5 405.6 L1721.1 403.7 L1725.8 401.8 L1730.4 399.8 L1735 397.9 L1741 395.4 L1749 395" stroke="#ff0000" stroke-width="13.6" fill="none" stroke-linecap="round" stroke-linejoin="round"/>
<path d="M1749 395 L1749.1 420 L1749.1 860.1 L1749.9 1000 L1751.1 1153.1 L1752.2 1255.1 L1752.9 1407.1" stroke="#ff0000" stroke-width="12" fill="none" stroke-linecap="round" stroke-linejoin="round"/>
<path d="M276 1513.8 L280.2 1513.4 L284.4 1513 L288.7 1512.6 L292.9 1512.3 L297.1 1511.9 L301.3 1511.6 L305.5 1511.2 L309.8 1510.9 L314 1510.6 L318.2 1510.3 M361.8 1507.1 L366.3 1506.8 L370.8 1506.4 L375.3 1506.1 L379.8 1505.7 L384.2 1505.4 L388.7 1505 L393.2 1504.6 L397.7 1504.2 M446.1 1498.9 L450.5 1498.3 L454.9 1497.7 L459.3 1497 L463.8 1496.4 L468.2 1495.7 L472.6 1494.9 L477 1494.2 M525.5 1483.6 L529.7 1482.5 L533.8 1481.3 L538 1480.1 L542.1 1478.9 L546.3 1477.6 L550.5 1476.3 L554.6 1475 L558.8 1473.6 M601.4 1457.8 L605.9 1455.9 L610.5 1453.9 L615 1452 L619.5 1450 L624 1447.9 L628.6 1445.9 L633.1 1443.8 M674.4 1423 L678.5 1420.8 L682.6 1418.5 L686.7 1416.3 L690.9 1414 L695 1411.7 L699.1 1409.3 L703.2 1407 M745.6 1381.1 L749.8 1378.5 L753.9 1375.8 L758.1 1373 L762.3 1370.3 L766.5 1367.5 L770.7 1364.7 L774.9 1361.9 M813.2 1335 L817.4 1331.9 L821.6 1328.8 L825.9 1325.7 L830.1 1322.5 L834.4 1319.3 L838.6 1316.1 L842.8 1312.9 M878.2 1285.3 L882.3 1282 L886.4 1278.7 L890.5 1275.4 L894.5 1272 L898.6 1268.7 L902.7 1265.3 L906.8 1261.9 M943.2 1230.9 L947.5 1227.2 L951.7 1223.4 L956 1219.6 L960.3 1215.9 L964.6 1212 L968.9 1208.2 L973.2 1204.4 M1006.9 1173.6 L1011.5 1169.3 L1016.1 1165 L1020.7 1160.7 L1025.3 1156.4 L1029.9 1152 L1034.5 1147.7 M1064.2 1119.1 L1068.8 1114.5 L1073.5 1110 L1078.1 1105.4 L1082.7 1100.8 L1087.4 1096.2 L1092 1091.5 M1127.9 1055.1 L1132.4 1050.3 L1137 1045.5 L1141.6 1040.7 L1146.2 1035.9 L1150.8 1031.1 M1181.4 998.1 L1185.9 993.2 L1190.3 988.3 L1194.8 983.4 L1199.3 978.5 L1203.7 973.5 L1208.2 968.5 M1239.7 932.8 L1243.9 928 L1248 923.2 L1252.2 918.4 L1256.4 913.6 L1260.5 908.8 L1264.7 903.9 M1298.4 864.4 L1303.4 858.6 L1308.3 852.8 L1313.3 846.9 L1318.2 841.1 M1345.5 808.7 L1350.5 802.8 L1355.5 796.8 L1360.5 790.9 L1365.5 785 M1394.9 750.1 L1399.1 745 L1403.4 740 L1407.6 735 L1411.8 729.9 L1416.1 724.9 M1449.8 685.1 L1454.5 679.5 L1459.3 674 L1464 668.5 L1468.7 662.9 L1473.4 657.4 M1499.4 626.9 L1504.2 621.3 L1509 615.7 L1513.7 610 L1518.5 604.4 L1523.3 598.7 M1553.2 559.9 L1579.2 533.9 M1601.5 565 L1603.1 606.6 M1605.6 669.6 L1605.6 711.2 M1605.6 771.7 L1605.6 813.2 M1604.1 872.1 L1605.2 914.7 M1606 974.2 L1606 1016.8 M1607.1 1076.2 L1607.7 1119.5 M1609.8 1181.3 L1609.8 1224.1 M1609.8 1284.6 L1609.8 1326.1 M1608.4 1384.1 L1612.3 1419.3" stroke="#ff0000" stroke-width="12" fill="none" stroke-linecap="round" stroke-linejoin="round"/>
</g>
<g id="ticklabels" class="tick">
<text transform="translate(288.5 1620.5) scale(1 1.05)" text-anchor="middle">0.0</text>
<text transform="translate(519.2 1620.5) scale(1 1.05)" text-anchor="middle">0.5</text>
<text transform="translate(749.9 1620.5) scale(1 1.05)" text-anchor="middle">1.0</text>
<text transform="translate(980.6 1620.5) scale(1 1.05)" text-anchor="middle">1.5</text>
<text transform="translate(1211.2 1620.5) scale(1 1.05)" text-anchor="middle">2.0</text>
<text transform="translate(1441.9 1620.5) scale(1 1.05)" text-anchor="middle">2.5</text>
<text transform="translate(1672.6 1620.5) scale(1 1.05)" text-anchor="middle">3.0</text>
<text transform="translate(1903.3 1620.5) scale(1 1.05)" text-anchor="middle">3.5</text>
<text transform="translate(2134 1620.5) scale(1 1.05)" text-anchor="middle">4.0</text>
<text transform="translate(238.5 1540) scale(1 1.05)" text-anchor="end">0</text>
<text transform="translate(238.5 1208.2) scale(1 1.05)" text-anchor="end">10</text>
<text transform="translate(238.5 876.4) scale(1 1.05)" text-anchor="end">20</text>
<text transform="translate(238.5 544.7) scale(1 1.05)" text-anchor="end">30</text>
<text transform="translate(238.5 212.9) scale(1 1.05)" text-anchor="end">40</text>
</g>
<g id="titles" class="axis">
<text transform="translate(957.7 1739.1) scale(1 1.041)">Elongation (%)</text>
<text transform="translate(81.6 955) rotate(-90) scale(1 1.041)">Stress (MPa)</text>
</g>
<g id="legend">
<rect x="307.5" y="45.5" width="418" height="461.5" fill="#ffffff" stroke="#000" stroke-width="3" shape-rendering="crispEdges"/>
<path d="M314 82.6 H431" stroke="#009600" stroke-width="12" stroke-linecap="round" fill="none"/>
<text class="leg" transform="translate(0 100.8) scale(1 1.042)" x="445.4">Pristine</text>
<path d="M314 147.2 H431" stroke="#ff0000" stroke-width="12" stroke-linecap="round" fill="none"/>
<text class="leg" transform="translate(0 165.4) scale(1 1.042)"><tspan x="446.1">10 </tspan><tspan x="519.3">phr </tspan><tspan x="611.8" letter-spacing="-1.3">RCF</tspan></text>
<path d="M314 211.8 H358 M416 211.8 H431" stroke="#ff0000" stroke-width="12" stroke-linecap="round" fill="none"/>
<text class="leg" transform="translate(0 230) scale(1 1.042)"><tspan x="446.1">10 </tspan><tspan x="519.3">phr </tspan><tspan x="610.5" letter-spacing="2.5">MW</tspan></text>
<path d="M314 276.4 H431" stroke="#0000ff" stroke-width="12" stroke-linecap="round" fill="none"/>
<text class="leg" transform="translate(0 294.6) scale(1 1.042)"><tspan x="446.1">30 </tspan><tspan x="519.3">phr </tspan><tspan x="611.8" letter-spacing="-1.3">RCF</tspan></text>
<path d="M314 341 H358 M416 341 H431" stroke="#0000ff" stroke-width="12" stroke-linecap="round" fill="none"/>
<text class="leg" transform="translate(0 359.2) scale(1 1.042)"><tspan x="446.1">30 </tspan><tspan x="519.3">phr </tspan><tspan x="610.5" letter-spacing="2.5">MW</tspan></text>
<path d="M314 405.6 H431" stroke="#000000" stroke-width="12" stroke-linecap="round" fill="none"/>
<text class="leg" transform="translate(0 423.8) scale(1 1.042)"><tspan x="446.1">50 </tspan><tspan x="519.3">phr </tspan><tspan x="611.8" letter-spacing="-1.3">RCF</tspan></text>
<path d="M314 470.2 H358 M416 470.2 H431" stroke="#000000" stroke-width="12" stroke-linecap="round" fill="none"/>
<text class="leg" transform="translate(0 488.4) scale(1 1.042)"><tspan x="446.1">50 </tspan><tspan x="519.3">phr </tspan><tspan x="610.5" letter-spacing="2.5">MW</tspan></text>
</g>
</svg>
</body>
</html>
